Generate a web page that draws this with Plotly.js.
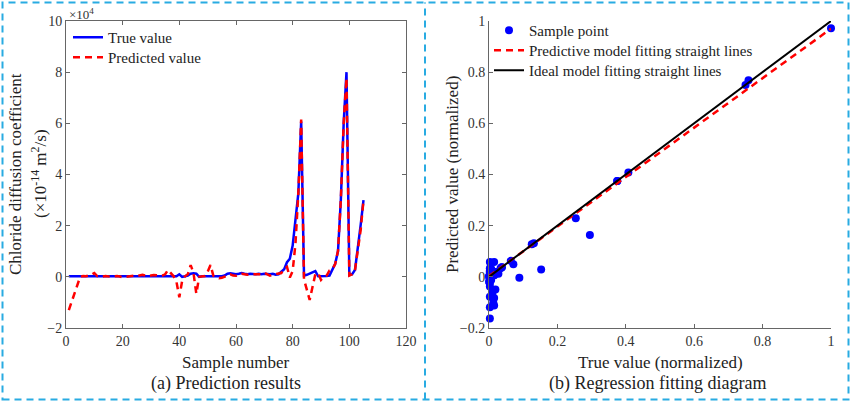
<!DOCTYPE html>
<html>
<head>
<meta charset="utf-8">
<script src="https://cdn.plot.ly/plotly-3.0.1.min.js"></script>
<style>
  body { margin: 0; background: #fff; }
  #grafico { width: 851px; height: 402px; }
</style>
</head>
<body>
<div id="grafico"></div>
<script>
// sample numbers 1..105
var numeroMuestra = [];
for (var i = 1; i <= 105; i++) numeroMuestra.push(i);

// true value (x10^4)
var valorReal = [
  0.02,0.02,0.02,0.02,0.02,0.02,0.02,0.02,0.02,0.02,
  0.02,0.02,0.02,0.02,0.02,0.02,0.02,0.02,0.02,0.02,
  0.02,0.02,0.02,0.02,0.02,0.02,0.02,0.02,0.02,0.02,
  0.02,0.02,0.02,0.02,0.02,0.02,0.02,0.02,0.02,0.1,
  0.0,0.02,0.05,0.12,0.14,0.12,0.0,0.02,0.02,0.02,
  0.02,0.02,0.02,0.02,0.02,0.05,0.12,0.14,0.12,0.1,
  0.12,0.15,0.12,0.1,0.12,0.1,0.1,0.12,0.1,0.12,
  0.1,0.1,0.12,0.08,0.1,0.2,0.3,0.57,0.71,1.22,
  2.36,3.26,6.07,0.05,0.08,0.12,0.15,0.22,0.02,0.02,
  0.02,0.03,0.05,0.3,0.51,1.0,3.0,6.0,8.0,0.07,
  0.1,0.27,1.05,2.03,3.0
];

// predicted value (x10^4)
var valorPredicho = [
  -1.3,-0.95,-0.62,-0.3,0.0,0.03,0.02,0.05,0.08,0.15,
  0.03,0.02,0.01,0.03,0.02,0.0,0.02,0.03,0.01,-0.02,
  0.0,0.02,0.04,0.05,0.03,0.06,0.08,0.05,0.03,0.05,
  0.07,0.06,0.04,0.05,0.1,0.27,0.15,0.02,-0.2,-0.8,
  -0.15,0.02,0.1,0.46,0.15,-0.66,0.0,0.02,0.03,0.2,
  0.46,0.05,0.0,-0.05,-0.04,0.0,0.06,0.1,0.05,0.04,
  0.08,0.12,0.1,0.08,0.1,0.1,0.12,0.1,0.1,0.16,
  0.1,0.05,0.08,0.1,0.12,0.15,0.3,0.39,-0.03,0.23,
  1.31,3.26,6.15,-0.1,-0.5,-0.9,-0.4,0.1,0.15,-0.12,
  0.0,0.05,0.25,0.3,0.5,1.02,3.0,6.0,7.77,0.05,
  0.1,0.27,1.05,1.83,3.0
];

// fitted straight lines (normalized)
var rectaX = [0, 1];
var rectaPredY = [0.003, 0.97];
var rectaIdealY = [0, 1];

// normalize with the true value range
var minReal = Math.min.apply(null, valorReal);
var maxReal = Math.max.apply(null, valorReal);
var realNorm = valorReal.map(function (v) { return (v - minReal) / (maxReal - minReal); });
var predNorm = valorPredicho.map(function (v) { return (v - minReal) / (maxReal - minReal); });

var fuente = "Liberation Serif";
var W = 851, H = 402;
function px(x) { return x / W; }
function py(y) { return 1 - y / H; }

var data = [
  {
    x: numeroMuestra, y: valorReal, type: "scatter", mode: "lines",
    name: "True value", line: {color: "#0000ff", width: 2.5},
    xaxis: "x", yaxis: "y", legend: "legend", showlegend: true
  },
  {
    x: numeroMuestra, y: valorPredicho, type: "scatter", mode: "lines",
    name: "Predicted value", line: {color: "#ff0000", width: 2.5, dash: "7px,5px"},
    xaxis: "x", yaxis: "y", legend: "legend2", showlegend: true
  },
  {
    x: realNorm, y: predNorm, type: "scatter", mode: "markers",
    name: "Sample point", marker: {color: "#0000ff", size: 8},
    cliponaxis: false, xaxis: "x2", yaxis: "y2", legend: "legend3", showlegend: true
  },
  {
    x: rectaX, y: rectaPredY, type: "scatter", mode: "lines",
    name: "Predictive model fitting straight lines",
    line: {color: "#ff0000", width: 2.5, dash: "7px,5px"},
    xaxis: "x2", yaxis: "y2", legend: "legend4", showlegend: true
  },
  {
    x: rectaX, y: rectaIdealY, type: "scatter", mode: "lines",
    name: "Ideal model fitting straight lines",
    line: {color: "#000000", width: 2},
    xaxis: "x2", yaxis: "y2", legend: "legend5", showlegend: true
  }
];

var ejeComun = {
  showgrid: false, zeroline: false, showline: true,
  linecolor: "#666", linewidth: 1,
  ticks: "inside", ticklen: 4, tickcolor: "#666",
  tickfont: {family: fuente, size: 14, color: "#333"}
};

function texto(t, x, y, size, angle) {
  return {text: t, xref: "paper", yref: "paper", x: px(x), y: py(y),
    xanchor: "center", yanchor: "middle", textangle: angle || 0,
    showarrow: false, font: {family: fuente, size: size, color: "#222"}};
}

// one legend box per entry so the rows sit as close as in the figure
function leyenda(x, yCentro) {
  return {x: px(x), y: py(yCentro - 17), xanchor: "left", yanchor: "top",
    bgcolor: "rgba(0,0,0,0)", font: {family: fuente, size: 15, color: "#222"}};
}

var layout = {
  width: W, height: H,
  margin: {l: 0, r: 0, t: 0, b: 0},
  showlegend: true,
  paper_bgcolor: "#fff", plot_bgcolor: "#fff",
  font: {family: fuente, color: "#222"},
  xaxis: Object.assign({}, ejeComun, {
    domain: [px(66), px(406)], range: [0, 120], dtick: 20, mirror: "ticks", anchor: "y"
  }),
  yaxis: Object.assign({}, ejeComun, {
    domain: [py(328), py(21)], range: [-2, 10], dtick: 2, mirror: "ticks", anchor: "x"
  }),
  xaxis2: Object.assign({}, ejeComun, {
    domain: [px(489), px(831)], range: [0, 1], dtick: 0.2, anchor: "y2"
  }),
  yaxis2: Object.assign({}, ejeComun, {
    domain: [py(328), py(21)], range: [-0.2, 1], dtick: 0.2, anchor: "x2"
  }),
  legend: leyenda(68, 38),
  legend2: leyenda(68, 58),
  legend3: leyenda(489, 31),
  legend4: leyenda(489, 51),
  legend5: leyenda(489, 71),
  shapes: [
    {type: "rect", xref: "paper", yref: "paper", x0: px(2.5), x1: px(848.5), y0: py(399.5), y1: py(2.5),
     line: {color: "#29abe2", width: 2, dash: "7px,5px"}},
    {type: "line", xref: "paper", yref: "paper", x0: px(425), x1: px(425), y0: py(399.5), y1: py(2.5),
     line: {color: "#29abe2", width: 2, dash: "7px,5px"}}
  ],
  annotations: [
    {text: "×10<sup>4</sup>", xref: "paper", yref: "paper", x: px(67), y: py(14),
     xanchor: "left", yanchor: "middle", showarrow: false,
     font: {family: fuente, size: 13, color: "#333"}},
    texto("Chloride diffusion coefficient", 16, 174, 17, -90),
    texto("(×10<sup>-14</sup> m<sup>2</sup>/s)", 39, 174, 17, -90),
    texto("Sample number", 236, 362, 17),
    texto("(a) Prediction results", 226, 383, 18),
    texto("Predicted value (normalized)", 453, 175, 17, -90),
    texto("True value (normalized)", 660, 362, 17),
    texto("(b) Regression fitting diagram", 657, 383, 18)
  ]
};

Plotly.newPlot("grafico", data, layout, {displayModeBar: false, staticPlot: true});
</script>
</body>
</html>
